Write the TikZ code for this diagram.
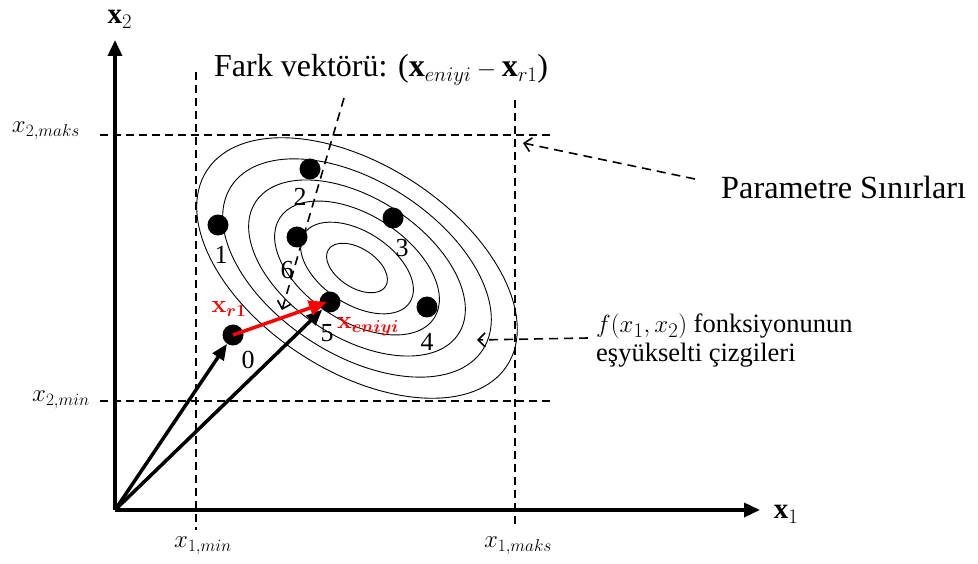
\documentclass[tikz,border=0pt]{standalone}
\usepackage{fontspec}
\setmainfont{Liberation Serif}
\usetikzlibrary{arrows.meta}
\begin{document}
\begin{tikzpicture}[x=1pt,y=-1pt,
  axis/.style={line width=3.5pt,-{Triangle[length=16pt,width=14pt]}},
  bound/.style={line width=1.4pt,dash pattern=on 8pt off 5pt},
  contour/.style={line width=0.9pt},
  dot/.style={circle,fill=black,inner sep=0pt,minimum size=21pt},
  num/.style={font=\fontsize{26}{30}\selectfont,inner sep=0pt},
  lbl/.style={font=\fontsize{32}{36}\selectfont,inner sep=0pt},
  dlbl/.style={font=\fontsize{26.5}{29}\selectfont,inner sep=0pt},
  mlbl/.style={font=\fontsize{25}{30}\selectfont,inner sep=0pt},
  axlbl/.style={font=\fontsize{29}{30}\selectfont,inner sep=0pt},
  callout/.style={line width=1.6pt,dash pattern=on 9pt off 6pt,-{Straight Barb[length=7pt,width=14pt]}},
  vec/.style={line width=3.5pt,-{Triangle[length=16pt,width=13pt]}},
  redvec/.style={red,line width=3.5pt,-{Triangle[length=18pt,width=15pt]}},
  redlbl/.style={text=red,font=\fontsize{26}{30}\selectfont\boldmath,inner sep=0pt},
]
\useasboundingbox (0,0) rectangle (978,564);

% contour ellipses
\foreach \s in {1,0.838,0.676,0.514,0.352,0.19}
  \draw[contour, rotate around={-33:(357,268)}] (357,268) ellipse [x radius=179*\s, y radius=103*\s];

% parameter bounds
\draw[bound] (196,72) -- (196,530);
\draw[bound] (515,100) -- (515,525);
\draw[bound] (100,135) -- (552,135);
\draw[bound] (100,401) -- (552,401);

\node[mlbl] (x1min) at (203,546) {$x_{1,min}$};
\node[mlbl] (x1maks) at (518,546) {$x_{1,maks}$};
\node[mlbl] (x2maks) at (46,131) {$x_{2,maks}$};
\node[mlbl] (x2min) at (61,400) {$x_{2,min}$};

% axes
\coordinate (O) at (115,510);
\coordinate (xend) at (760,510);
\coordinate (yend) at (115,40);
\draw[axis] (O) -- (xend);
\draw[axis] (O) -- (yend);
\node[axlbl] (x1lab) at (786,514) {$\mathbf{x}_1$};
\node[axlbl] (x2lab) at (120,19) {$\mathbf{x}_2$};

% points
\node[dot] (p0) at (233,335) {};
\node[dot] (p1) at (218,225) {};
\node[dot] (p2) at (310,169) {};
\node[dot] (p3) at (393,218) {};
\node[dot] (p4) at (427,307) {};
\node[dot] (p5) at (330,302) {};
\node[dot] (p6) at (297,237) {};

\node[num] (n0) at (248,360) {0};
\node[num] (n1) at (221,255) {1};
\node[num] (n2) at (300,197) {2};
\node[num] (n3) at (402,248) {3};
\node[num] (n4) at (427,342) {4};
\node[num] (n5) at (327,333) {5};
\node[num] (n6) at (287,270) {6};

% difference vector callout
\node[lbl,anchor=west] (fark) at (214,70) {Fark vektörü: ($\mathbf{x}_{eniyi}-\mathbf{x}_{r1}$)};
\coordinate (fs) at (344,98);
\coordinate (fe) at (282,310);
\draw[callout] (fs) -- (fe);

% parameter bounds callout
\node[lbl,anchor=west,font=\fontsize{32.3}{36}\selectfont] (param) at (721,187) {Parametre Sınırları};
\coordinate (ps) at (695,179);
\coordinate (pe) at (523,143);
\draw[callout] (ps) -- (pe);

% contour callout
\node[dlbl,anchor=west,align=left] (fdesc) at (596,341) {{\fontsize{32}{29}\selectfont$f(x_1,x_2)$} fonksiyonunun\\eşyükselti çizgileri};
\coordinate (cs) at (588,338);
\coordinate (ce) at (477,340);
\draw[callout] (cs) -- (ce);

% vectors
\draw[vec] (O) -- (p0);
\draw[vec] (O) -- (p5);
\draw[redvec] (p0.center) -- ([xshift=-3pt]p5.center);
\node[redlbl] (xr1) at (229,309) {$\mathbf{x}_{r1}$};
\node[redlbl] (xeniyi) at (368,327) {$\mathbf{x}_{eniyi}$};
\end{tikzpicture}
\end{document}
